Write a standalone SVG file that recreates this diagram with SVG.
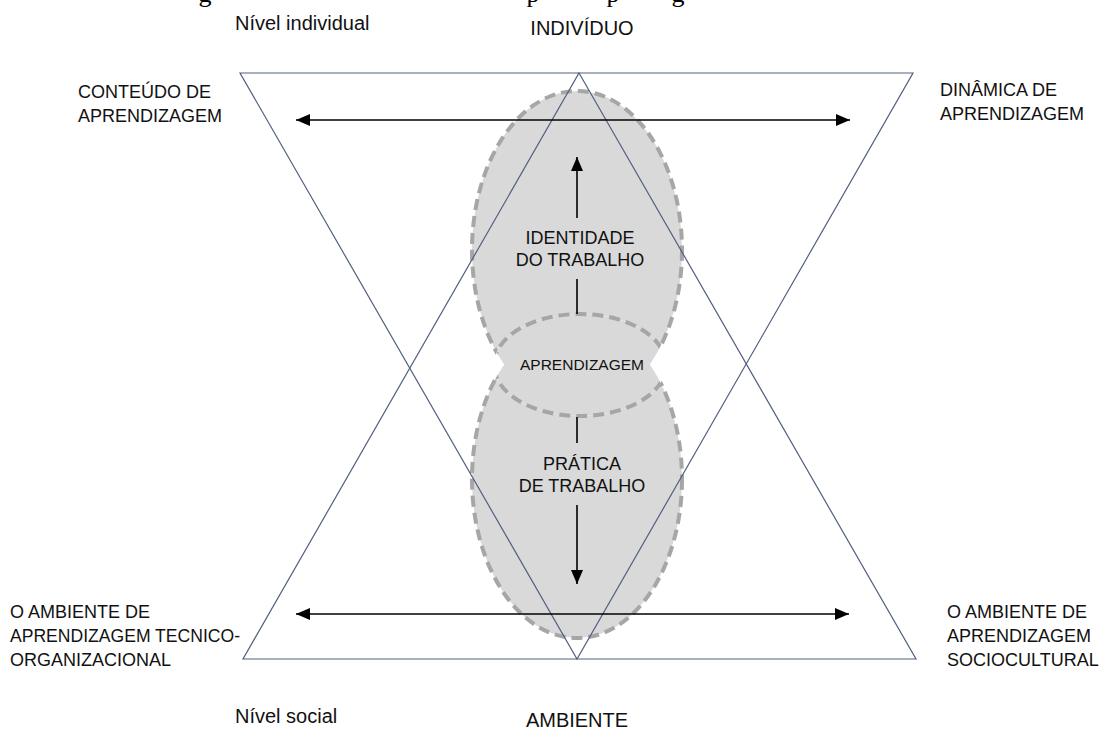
<svg xmlns="http://www.w3.org/2000/svg" width="1103" height="729" viewBox="0 0 1103 729">
  <style>
    .lbl { font-family: "Liberation Sans", Arial, sans-serif; fill: #111; }
    .ser { font-family: "Liberation Serif", "Times New Roman", serif; font-size: 26px; fill: #000; text-anchor: middle; }
    .tri { fill: none; stroke: #52607f; stroke-width: 1.2; }
    .blob { fill: #d9d9d9; stroke: #a6a6a6; stroke-width: 4; stroke-dasharray: 11 6; }
    .arr { stroke: #000; stroke-width: 1.6; fill: none; }
    .mid { text-anchor: middle; }
  </style>
  <defs>
    <marker id="ah" viewBox="0 0 14 12" refX="14" refY="6" markerWidth="14" markerHeight="12" markerUnits="userSpaceOnUse" orient="auto-start-reverse">
      <path d="M0,0 L14,6 L0,12 z" fill="#000"/>
    </marker>
    <clipPath id="blobs">
      <ellipse cx="577" cy="250" rx="105" ry="159"/>
      <ellipse cx="577" cy="479" rx="105" ry="159"/>
    </clipPath>
  </defs>
  <rect width="1103" height="729" fill="#fff"/>

  <g id="caption-fragment">
    <text class="ser" x="205" y="2">g</text>
    <text class="ser" x="533" y="2">p</text>
    <text class="ser" x="613" y="2">p</text>
    <text class="ser" x="678" y="2">g</text>
  </g>

  <g id="learning-shape">
    <ellipse class="blob" cx="577" cy="250" rx="105" ry="159"/>
    <ellipse class="blob" cx="577" cy="479" rx="105" ry="159"/>
    <ellipse cx="580" cy="365" rx="86" ry="51" fill="#fff"/>
    <ellipse class="blob" cx="580" cy="365" rx="86" ry="51" fill="none" clip-path="url(#blobs)"/>
  </g>

  <g id="triangles">
    <polygon class="tri" points="240,73 913,73 577,659"/>
    <polygon class="tri" points="579,73 916,659 243,659"/>
  </g>

  <g id="connectors">
    <line class="arr" x1="296" y1="120" x2="850" y2="120" marker-start="url(#ah)" marker-end="url(#ah)"/>
    <line class="arr" x1="296" y1="614" x2="849" y2="614" marker-start="url(#ah)" marker-end="url(#ah)"/>
    <line class="arr" x1="577" y1="218" x2="577" y2="157" marker-end="url(#ah)"/>
    <line class="arr" x1="577" y1="279" x2="577" y2="314"/>
    <line class="arr" x1="577" y1="417" x2="577" y2="443"/>
    <line class="arr" x1="577" y1="505" x2="577" y2="584" marker-end="url(#ah)"/>
  </g>

  <g id="nivel-individual"><text class="lbl" x="235" y="30" font-size="20">Nível individual</text></g>
  <g id="individuo"><text class="lbl mid" x="582" y="35" font-size="20">INDIVÍDUO</text></g>
  <g id="conteudo">
    <text class="lbl" x="78" y="98" font-size="18">CONTEÚDO DE</text>
    <text class="lbl" x="78" y="122" font-size="18">APRENDIZAGEM</text>
  </g>
  <g id="dinamica">
    <text class="lbl" x="940" y="96" font-size="18">DINÂMICA DE</text>
    <text class="lbl" x="940" y="120" font-size="18">APRENDIZAGEM</text>
  </g>
  <g id="identidade">
    <text class="lbl mid" x="580" y="244" font-size="18">IDENTIDADE</text>
    <text class="lbl mid" x="580" y="266" font-size="18">DO TRABALHO</text>
  </g>
  <g id="aprendizagem"><text class="lbl mid" x="582" y="370" font-size="15.5">APRENDIZAGEM</text></g>
  <g id="pratica">
    <text class="lbl mid" x="582" y="470" font-size="18">PRÁTICA</text>
    <text class="lbl mid" x="582" y="492" font-size="18">DE TRABALHO</text>
  </g>
  <g id="ambiente-tecnico">
    <text class="lbl" x="10" y="618" font-size="18">O AMBIENTE DE</text>
    <text class="lbl" x="10" y="642" font-size="18" textLength="230" lengthAdjust="spacingAndGlyphs">APRENDIZAGEM TECNICO-</text>
    <text class="lbl" x="10" y="666" font-size="18">ORGANIZACIONAL</text>
  </g>
  <g id="ambiente-socio">
    <text class="lbl" x="947" y="618" font-size="18">O AMBIENTE DE</text>
    <text class="lbl" x="947" y="642" font-size="18">APRENDIZAGEM</text>
    <text class="lbl" x="947" y="666" font-size="18">SOCIOCULTURAL</text>
  </g>
  <g id="nivel-social"><text class="lbl" x="235" y="723" font-size="20">Nível social</text></g>
  <g id="ambiente"><text class="lbl mid" x="577" y="727" font-size="20">AMBIENTE</text></g>
</svg>
